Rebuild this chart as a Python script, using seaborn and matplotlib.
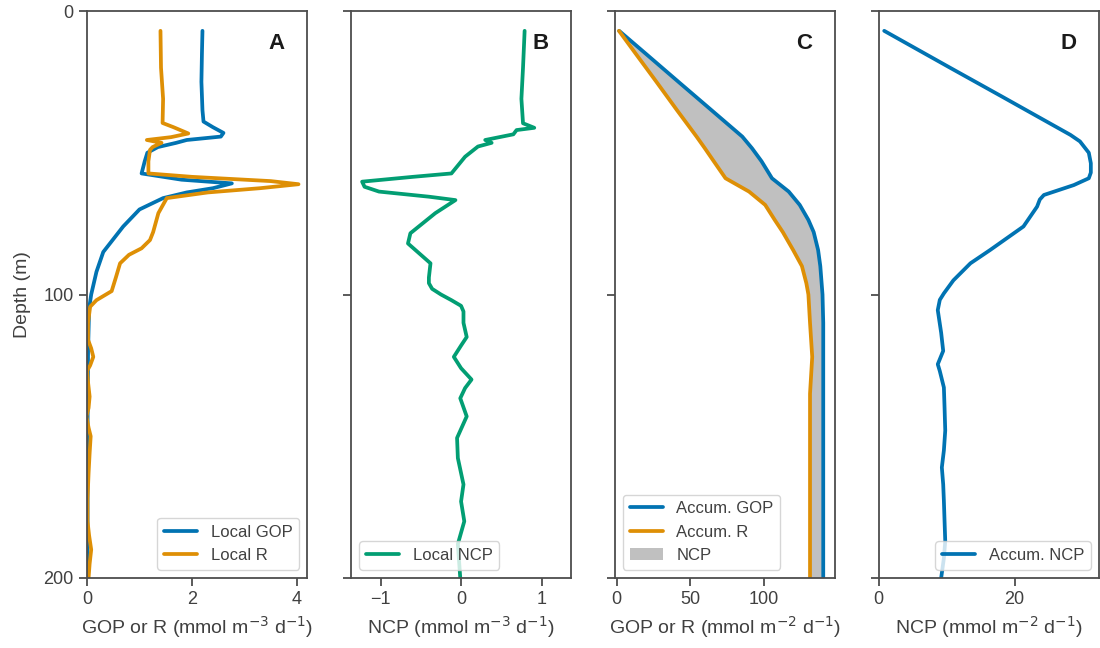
import numpy as np
import pandas as pd
import matplotlib.pyplot as plt
import seaborn as sns

# Panel A: local rates (mmol m-3 d-1)
depth_gop = [7, 15, 25, 35, 39, 41, 43, 44.3, 45.5, 46.5, 48, 50, 53, 57.3, 59.5, 60.8,
             62.5, 64, 66, 70, 76, 85, 92, 100, 105, 120, 150, 200]
local_gop = [2.20, 2.19, 2.18, 2.20, 2.22, 2.40, 2.60, 2.55, 1.90, 1.70, 1.35, 1.15, 1.10,
             1.04, 1.80, 2.76, 2.40, 1.90, 1.45, 1.00, 0.69, 0.31, 0.18, 0.08, 0.04, 0.02,
             0.01, 0.01]
depth_r = [7, 20, 31, 39.5, 41, 43.2, 44.5, 45.5, 46.5, 48, 49, 53, 57.3, 58.5, 60, 61.1,
           62.5, 64, 66, 71.3, 78, 80.8, 83.7, 86, 89, 94, 98.8, 102, 104.3, 110, 116, 119,
           122, 125, 127, 131, 136, 140, 143, 147, 150, 156, 163, 172, 180, 185, 190, 195, 200]
local_r = [1.40, 1.41, 1.45, 1.44, 1.65, 1.93, 1.60, 1.14, 1.42, 1.25, 1.20, 1.17, 1.17,
           2.00, 3.50, 4.03, 3.30, 2.30, 1.52, 1.36, 1.26, 1.20, 1.04, 0.80, 0.63, 0.55, 0.47,
           0.18, 0.06, 0.02, 0.02, 0.08, 0.12, 0.06, 0.00, 0.02, 0.05, 0.03, -0.01, 0.03, 0.07,
           0.05, 0.03, 0.01, 0.01, 0.04, 0.08, 0.05, 0.03]

# Panel B: local NCP
depth_ncp = [7, 20, 31, 39.6, 41.2, 42, 43.5, 45.5, 46.5, 47.8, 51.4, 57.3, 58.5, 60.2, 62,
             63.7, 65.5, 66.7, 71.3, 78.4, 82, 89, 94, 96, 98, 100, 102, 104, 106, 110, 115,
             118, 122, 126, 130, 133, 136.6, 143, 150.6, 157.7, 167, 173, 180, 188, 200]
local_ncp = [0.79, 0.77, 0.75, 0.77, 0.91, 0.69, 0.65, 0.30, 0.38, 0.21, 0.05, -0.12, -0.60,
             -1.23, -1.20, -1.02, -0.40, -0.07, -0.32, -0.63, -0.66, -0.38, -0.40, -0.40, -0.36,
             -0.25, -0.12, 0.00, 0.03, 0.03, 0.07, 0.00, -0.09, 0.00, 0.13, 0.05, -0.01, 0.07,
             -0.05, -0.04, 0.03, 0.00, 0.04, -0.04, -0.01]

# Panel C: accumulated rates (mmol m-2 d-1)
depth_acc = [7, 15, 25, 35, 44.3, 48.4, 53, 59, 63.7, 68.4, 73.7, 78, 84.3, 90, 96, 100,
             110, 122, 135, 150, 170, 200]
accum_gop = [1.6, 19.6, 42.0, 64.5, 85.4, 92.0, 98.5, 105.6, 117.0, 124.5, 130.4, 134.0,
             137.0, 138.5, 139.4, 140.0, 140.5, 140.5, 140.5, 140.5, 140.5, 140.5]
accum_r = [1.5, 12.8, 27.0, 41.0, 54.3, 59.9, 66.0, 74.0, 90.0, 101.0, 107.5, 113.0, 120.0,
           126.0, 129.0, 130.4, 131.5, 133.0, 131.5, 131.5, 131.5, 131.5]

# Panel D: accumulated NCP
depth_ncp_acc = [7, 20, 30, 43.7, 46, 50, 53.7, 57, 59, 61.4, 64.9, 66.5, 69, 76, 84.3, 89,
                 95, 99.6, 101.9, 105.5, 113.5, 119.9, 124.6, 127, 132.8, 140, 148, 155,
                 161, 167, 172.8, 180, 187, 193, 200]
accum_ncp = [0.83, 10.5, 18.0, 28.2, 29.6, 30.9, 31.2, 31.2, 30.9, 28.7, 24.3, 23.7, 23.3,
             21.3, 16.4, 13.5, 11.0, 9.6, 9.0, 8.7, 9.2, 9.5, 8.7, 9.0, 9.6, 9.7, 9.8, 9.6,
             9.3, 9.5, 9.6, 9.7, 9.8, 9.6, 9.2]

sns.set_theme(style="ticks", palette="colorblind")
plt.rcParams['font.family'] = ['Liberation Sans', 'DejaVu Sans']
plt.rcParams.update({
    'axes.edgecolor': '0.3', 'axes.linewidth': 1.3,
    'xtick.color': '0.3', 'ytick.color': '0.3',
    'xtick.labelcolor': '0.25', 'ytick.labelcolor': '0.25',
    'axes.labelcolor': '0.25', 'text.color': '0.25',
    'xtick.major.size': 6, 'ytick.major.size': 6,
    'xtick.major.width': 1.3, 'ytick.major.width': 1.3,
    'xtick.labelsize': 13, 'ytick.labelsize': 13, 'axes.labelsize': 14,
    'legend.fontsize': 12,
})
pal = sns.color_palette("colorblind")
blue, orange, green = pal[0], pal[1], pal[2]
lw = 2.7

fig, axes = plt.subplots(1, 4, figsize=(11, 6.48), dpi=100, sharey=True)
fig.subplots_adjust(left=87 / 1100, right=1099 / 1100, top=1 - 11 / 648,
                    bottom=1 - 578 / 648, wspace=0.197)
ax_a, ax_b, ax_c, ax_d = axes

sns.lineplot(x=local_gop, y=depth_gop, orient="y", sort=False, color=blue, lw=lw,
             label="Local GOP", ax=ax_a)
sns.lineplot(x=local_r, y=depth_r, orient="y", sort=False, color=orange, lw=lw,
             label="Local R", ax=ax_a)
ax_a.set_xlim(0, 4.2)
ax_a.set_xticks([0, 2, 4])
ax_a.set_xlabel(r"GOP or R (mmol m$^{-3}$ d$^{-1}$)")
ax_a.set_ylabel("Depth (m)", labelpad=9)
ax_a.legend(loc="lower right")

sns.lineplot(x=local_ncp, y=depth_ncp, orient="y", sort=False, color=green, lw=lw,
             label="Local NCP", ax=ax_b)
ax_b.set_xlim(-1.37, 1.37)
ax_b.set_xticks([-1, 0, 1])
ax_b.set_xlabel(r"NCP (mmol m$^{-3}$ d$^{-1}$)")
ax_b.legend(loc="lower left")

ax_c.fill_betweenx(depth_acc, accum_r, accum_gop, color="silver", label="NCP", lw=0)
sns.lineplot(x=accum_gop, y=depth_acc, orient="y", sort=False, color=blue, lw=lw,
             label="Accum. GOP", ax=ax_c)
sns.lineplot(x=accum_r, y=depth_acc, orient="y", sort=False, color=orange, lw=lw,
             label="Accum. R", ax=ax_c)
ax_c.set_xlim(-1.4, 148.6)
ax_c.set_xticks([0, 50, 100])
ax_c.set_xlabel(r"GOP or R (mmol m$^{-2}$ d$^{-1}$)")
h, l = ax_c.get_legend_handles_labels()
order = [l.index("Accum. GOP"), l.index("Accum. R"), l.index("NCP")]
ax_c.legend([h[i] for i in order], [l[i] for i in order], loc="lower left")

sns.lineplot(x=accum_ncp, y=depth_ncp_acc, orient="y", sort=False, color=blue, lw=lw,
             label="Accum. NCP", ax=ax_d)
ax_d.set_xlim(0, 32.4)
ax_d.set_xticks([0, 20])
ax_d.set_xlabel(r"NCP (mmol m$^{-2}$ d$^{-1}$)")
ax_d.legend(loc="lower right")

ax_a.set_ylim(200, 0)
ax_a.set_yticks([0, 100, 200])

for ax, letter in zip(axes, "ABCD"):
    ax.text(0.86, 0.942, letter, transform=ax.transAxes, ha="center", va="center",
            fontsize=16, fontweight="bold", color="0.1")
    ax.tick_params(labelleft=(ax is ax_a))

plt.savefig("out.png", dpi=100)
